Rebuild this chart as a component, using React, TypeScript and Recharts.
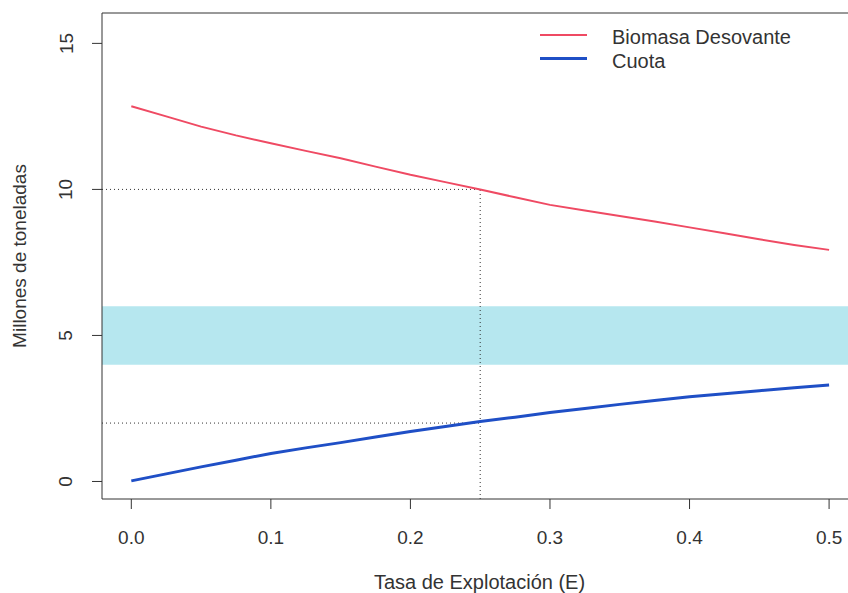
import React from 'react';
import {
  ComposedChart,
  Line,
  XAxis,
  YAxis,
  ReferenceArea,
  ReferenceLine,
} from 'recharts';

// Tasa de explotación (E) sampled along the curves
const eValues = [
  0, 0.025, 0.05, 0.075, 0.1, 0.125, 0.15, 0.175, 0.2, 0.225, 0.25,
  0.275, 0.3, 0.325, 0.35, 0.375, 0.4, 0.425, 0.45, 0.475, 0.5,
];
// Millones de toneladas
const biomasa = [
  12.85, 12.5, 12.15, 11.85, 11.58, 11.32, 11.07, 10.78, 10.5, 10.25, 10.0,
  9.73, 9.47, 9.28, 9.09, 8.9, 8.7, 8.5, 8.29, 8.1, 7.93,
];
const cuota = [
  0.02, 0.26, 0.5, 0.73, 0.96, 1.15, 1.33, 1.52, 1.71, 1.88, 2.05,
  2.2, 2.36, 2.5, 2.64, 2.77, 2.9, 3.0, 3.11, 3.21, 3.3,
];

const xTicks = [0, 0.1, 0.2, 0.3, 0.4, 0.5];
const yTicks = [0, 5, 10, 15];
const xDomain = [-0.021, 0.52];
const yDomain = [-0.6, 16.04];

const bandLow = 4;
const bandHigh = 6;
const targetE = 0.25;
const targetBiomasa = 10;
const targetCuota = 2;

const data = eValues.map((e, i) => ({ e, biomasa: biomasa[i], cuota: cuota[i] }));

const FONT = "'Liberation Sans', Arial, sans-serif";
const TEXT = '#333';
const RED = '#EF4A63';
const BLUE = '#1F4FC6';

const XTick = (props: any) => (
  <text
    x={props.x}
    y={props.y + 28}
    textAnchor="middle"
    dominantBaseline="central"
    fontFamily={FONT}
    fontSize={19}
    fill={TEXT}
  >
    {Number(props.payload.value).toFixed(1)}
  </text>
);

const YTick = (props: any) => {
  const x = props.x - 26;
  return (
    <text
      x={x}
      y={props.y}
      transform={`rotate(-90 ${x} ${props.y})`}
      textAnchor="middle"
      dominantBaseline="central"
      fontFamily={FONT}
      fontSize={19}
      fill={TEXT}
    >
      {props.payload.value}
    </text>
  );
};

const Legend = () => (
  <svg
    width={320}
    height={80}
    style={{ position: 'absolute', left: 520, top: 0 }}
  >
    <line x1={20} x2={67} y1={35} y2={35} stroke={RED} strokeWidth={2} />
    <line x1={20} x2={67} y1={58.5} y2={58.5} stroke={BLUE} strokeWidth={3} />
    <text x={92} y={36.5} dominantBaseline="central" fontFamily={FONT} fontSize={20} fill={TEXT}>
      Biomasa Desovante
    </text>
    <text x={92} y={60.5} dominantBaseline="central" fontFamily={FONT} fontSize={20} fill={TEXT}>
      Cuota
    </text>
  </svg>
);

export default function App() {
  return (
    <div
      style={{
        position: 'absolute',
        left: 0,
        top: 0,
        width: 848,
        height: 593,
        overflow: 'hidden',
        background: '#fff',
      }}
    >
      <ComposedChart
        width={870}
        height={593}
        data={data}
        margin={{ top: 13, right: 13, bottom: 0, left: 0 }}
      >
        <XAxis
          dataKey="e"
          type="number"
          domain={xDomain}
          ticks={xTicks}
          allowDataOverflow
          axisLine={false}
          tickSize={10}
          tickMargin={0}
          tickLine={{ stroke: TEXT }}
          tick={<XTick />}
          height={94}
          label={{
            content: (p: any) => (
              <text
                x={p.viewBox.x + p.viewBox.width / 2}
                y={p.viewBox.y + 83}
                textAnchor="middle"
                dominantBaseline="central"
                fontFamily={FONT}
                fontSize={20}
                fill={TEXT}
              >
                Tasa de Explotación (E)
              </text>
            ),
          }}
        />
        <YAxis
          type="number"
          domain={yDomain}
          ticks={yTicks}
          allowDataOverflow
          axisLine={false}
          tickSize={10}
          tickMargin={0}
          tickLine={{ stroke: TEXT }}
          tick={<YTick />}
          width={102}
          label={{
            content: (p: any) => {
              const cy = p.viewBox.y + p.viewBox.height / 2;
              return (
                <text
                  x={19}
                  y={cy}
                  transform={`rotate(-90 19 ${cy})`}
                  textAnchor="middle"
                  dominantBaseline="central"
                  fontFamily={FONT}
                  fontSize={19}
                  fill={TEXT}
                >
                  Millones de toneladas
                </text>
              );
            },
          }}
        />
        <ReferenceArea
          y1={bandLow}
          y2={bandHigh}
          fill="#b6e7ef"
          fillOpacity={1}
          stroke="none"
          ifOverflow="visible"
        />
        <ReferenceLine
          segment={[
            { x: xDomain[0], y: targetBiomasa },
            { x: targetE, y: targetBiomasa },
          ]}
          stroke="#333"
          strokeDasharray="1 3"
          ifOverflow="visible"
        />
        <ReferenceLine
          segment={[
            { x: xDomain[0], y: targetCuota },
            { x: targetE, y: targetCuota },
          ]}
          stroke="#333"
          strokeDasharray="1 3"
          ifOverflow="visible"
        />
        <ReferenceLine
          segment={[
            { x: targetE, y: yDomain[0] },
            { x: targetE, y: targetBiomasa },
          ]}
          stroke="#333"
          strokeDasharray="1 3"
          ifOverflow="visible"
        />
        <Line
          type="linear"
          dataKey="biomasa"
          stroke={RED}
          strokeWidth={2}
          dot={false}
          isAnimationActive={false}
        />
        <Line
          type="linear"
          dataKey="cuota"
          stroke={BLUE}
          strokeWidth={3}
          dot={false}
          isAnimationActive={false}
        />
        <ReferenceArea
          x1={xDomain[0]}
          x2={xDomain[1]}
          y1={yDomain[0]}
          y2={yDomain[1]}
          fill="none"
          stroke="#333"
          strokeWidth={1}
          ifOverflow="visible"
        />
      </ComposedChart>
      <Legend />
    </div>
  );
}
